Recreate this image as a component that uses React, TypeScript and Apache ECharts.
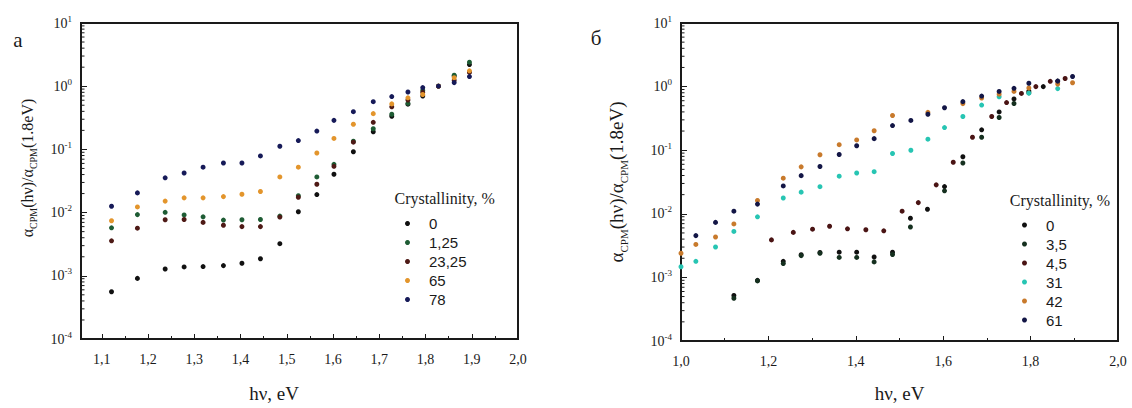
import React, { useEffect, useRef } from "react";
import * as echarts from "echarts";

// ---------- Panel а ----------
const A_X = [1.121, 1.177, 1.237, 1.278, 1.319, 1.363, 1.403, 1.443, 1.485, 1.525, 1.565, 1.602, 1.644, 1.687, 1.727, 1.762, 1.794, 1.828, 1.862, 1.895];
const A_0 = [0.00056, 0.00091, 0.00128, 0.00138, 0.0014, 0.00145, 0.00158, 0.00186, 0.00322, 0.0103, 0.0193, 0.0404, 0.0919, 0.19, 0.335, 0.52, 0.7, 1.0, 1.45, 2.2];
const A_125 = [0.00574, 0.00929, 0.0101, 0.00919, 0.00857, 0.00762, 0.0077, 0.00778, 0.0088, 0.0185, 0.0367, 0.058, 0.135, 0.212, 0.36, 0.536, 0.86, 1.0, 1.49, 2.4];
const A_2325 = [0.00358, 0.00567, 0.0077, 0.00778, 0.007, 0.0063, 0.006, 0.006, 0.0085, 0.0175, 0.0281, 0.054, 0.13, 0.268, 0.472, 0.604, 0.8, 1.0, 1.24, 1.65];
const A_65 = [0.00743, 0.0123, 0.0152, 0.0171, 0.0171, 0.0179, 0.0195, 0.0216, 0.0367, 0.0523, 0.0878, 0.149, 0.25, 0.368, 0.525, 0.655, 0.74, 1.0, 1.36, 1.75];
const A_78 = [0.0126, 0.0205, 0.0355, 0.0423, 0.0523, 0.061, 0.061, 0.0789, 0.112, 0.138, 0.195, 0.288, 0.395, 0.569, 0.686, 0.809, 0.95, 1.0, 1.14, 1.42];
const A_NAMES = ["0", "1,25", "23,25", "65", "78"];
const A_COLORS = ["#111111", "#1e5c34", "#4e1a16", "#e3952c", "#161a58"];
const A_MAJOR_TICKS = [1.1, 1.2, 1.3, 1.4, 1.5, 1.6, 1.7, 1.8, 1.9, 2.0];
const A_MINOR_TICKS = [1.15, 1.25, 1.35, 1.45, 1.55, 1.65, 1.75, 1.85, 1.95];

// ---------- Panel б ----------
const B_X0 = [1.121, 1.175, 1.234, 1.275, 1.318, 1.362, 1.402, 1.442, 1.484, 1.525, 1.564, 1.603, 1.645, 1.688, 1.728, 1.762, 1.796, 1.829, 1.862];
const B_0 = [0.00052, 0.0009, 0.00179, 0.00227, 0.00246, 0.00249, 0.00249, 0.00209, 0.00249, 0.0085, 0.0118, 0.0268, 0.079, 0.209, 0.4, 0.64, 0.85, 1.0, 1.22];
const B_X35 = [1.121, 1.175, 1.234, 1.275, 1.318, 1.362, 1.402, 1.442, 1.484, 1.525, 1.603, 1.645, 1.688, 1.728, 1.762, 1.796];
const B_35 = [0.00047, 0.00088, 0.00165, 0.0022, 0.0024, 0.00206, 0.00206, 0.00175, 0.00229, 0.0062, 0.023, 0.063, 0.16, 0.327, 0.542, 0.8];
const B_X45 = [1.207, 1.257, 1.301, 1.34, 1.381, 1.423, 1.464, 1.506, 1.543, 1.584, 1.623, 1.667, 1.711, 1.745, 1.779, 1.812, 1.845, 1.879];
const B_45 = [0.00389, 0.0051, 0.00573, 0.00637, 0.00581, 0.00561, 0.0054, 0.011, 0.015, 0.0285, 0.0646, 0.16, 0.339, 0.561, 0.781, 1.0, 1.21, 1.34];
const B_X31 = [1.0, 1.034, 1.079, 1.121, 1.175, 1.234, 1.275, 1.318, 1.362, 1.402, 1.442, 1.484, 1.526, 1.565, 1.603, 1.645, 1.688, 1.728, 1.796, 1.862];
const B_31 = [0.00147, 0.00179, 0.00301, 0.00528, 0.00897, 0.0177, 0.0219, 0.0267, 0.039, 0.0438, 0.0459, 0.0887, 0.0997, 0.149, 0.227, 0.339, 0.512, 0.693, 0.789, 0.93];
const B_X42 = [1.0, 1.034, 1.079, 1.121, 1.175, 1.234, 1.275, 1.318, 1.362, 1.402, 1.442, 1.484, 1.565, 1.645, 1.688, 1.728, 1.762, 1.796, 1.862, 1.896];
const B_42 = [0.0024, 0.0033, 0.00432, 0.00693, 0.0162, 0.0363, 0.0547, 0.0847, 0.122, 0.145, 0.202, 0.351, 0.394, 0.54, 0.66, 0.76, 0.84, 0.95, 1.1, 1.15];
const B_X61 = [1.034, 1.079, 1.121, 1.175, 1.234, 1.275, 1.318, 1.362, 1.402, 1.442, 1.484, 1.526, 1.565, 1.603, 1.645, 1.688, 1.728, 1.762, 1.796, 1.862, 1.896];
const B_61 = [0.00454, 0.00733, 0.011, 0.0142, 0.0274, 0.0398, 0.0555, 0.0857, 0.1175, 0.152, 0.244, 0.294, 0.367, 0.465, 0.58, 0.71, 0.84, 0.94, 1.13, 1.22, 1.44];
const B_NAMES = ["0", "3,5", "4,5", "31", "42", "61"];
const B_COLORS = ["#111111", "#15301f", "#4a1414", "#27c5b3", "#c87a2c", "#131646"];

// log-axis minor ticks (2..9 of each decade)
const Y_MINOR = [
  2e-4, 3e-4, 4e-4, 5e-4, 6e-4, 7e-4, 8e-4, 9e-4,
  2e-3, 3e-3, 4e-3, 5e-3, 6e-3, 7e-3, 8e-3, 9e-3,
  2e-2, 3e-2, 4e-2, 5e-2, 6e-2, 7e-2, 8e-2, 9e-2,
  2e-1, 3e-1, 4e-1, 5e-1, 6e-1, 7e-1, 8e-1, 9e-1,
  2, 3, 4, 5, 6, 7, 8, 9,
];

const SERIF = "Liberation Serif";
const SANS = "Liberation Sans";
const INK = "#1a1a1a";

const A_XMIN = 1.055;
const B_XMIN = 1.0;

function pairs(xs: number[], ys: number[]) {
  return xs.map((x, i) => [x, ys[i]]);
}

function yAxis(gridIndex: number, nameSize: number, nameGap: number, namePad: number[]) {
  return {
    type: "log",
    logBase: 10,
    gridIndex,
    min: 1e-4,
    max: 10,
    axisLine: { show: true, lineStyle: { color: INK, width: 2 } },
    axisTick: { show: true, inside: true, length: 6, lineStyle: { color: INK, width: 1 } },
    splitLine: { show: false },
    axisLabel: {
      margin: 9,
      color: INK,
      formatter: (v: number) => `{b|10}{s|${Math.round(Math.log10(v))}}`,
      rich: {
        b: { fontFamily: SERIF, fontSize: 14, color: INK, lineHeight: 18 },
        s: { fontFamily: SERIF, fontSize: 9, color: INK, verticalAlign: "top" },
      },
    },
    name: "{m|α}{u|CPM}{m|(hν)/α}{u|CPM}{m|(1.8eV)}",
    nameLocation: "middle",
    nameGap,
    nameRotate: 90,
    nameTextStyle: {
      padding: namePad,
      rich: {
        m: { fontFamily: SERIF, fontSize: nameSize, color: INK, lineHeight: nameSize + 6 },
        u: { fontFamily: SERIF, fontSize: Math.round(nameSize * 0.6), color: INK, verticalAlign: "bottom" },
      },
    },
  };
}

function minorTickSeries(xIdx: number, yIdx: number, xMin: number) {
  return {
    type: "custom",
    xAxisIndex: xIdx,
    yAxisIndex: yIdx,
    silent: true,
    clip: false,
    data: Y_MINOR.map((v) => [xMin, v]),
    renderItem: (_p: any, api: any) => {
      const pt = api.coord([api.value(0), api.value(1)]);
      return {
        type: "line",
        shape: { x1: pt[0], y1: pt[1], x2: pt[0] + 3.5, y2: pt[1] },
        style: { stroke: INK, lineWidth: 1 },
      };
    },
  };
}

function scatter(name: string, color: string, xIdx: number, yIdx: number, data: number[][]) {
  return {
    type: "scatter",
    name,
    xAxisIndex: xIdx,
    yAxisIndex: yIdx,
    symbol: "circle",
    symbolSize: 5,
    itemStyle: { color, opacity: 1 },
    data,
  };
}

const commaFmt = (v: number) => v.toFixed(1).replace(".", ",");

export default function App() {
  const ref = useRef<HTMLDivElement>(null);

  useEffect(() => {
    document.body.style.margin = "0";
    if (!ref.current) return;
    const chart = echarts.init(ref.current, null, { renderer: "svg" });

    const xLabel = { fontFamily: SERIF, fontSize: 14, color: INK, margin: 13 };
    const xNameStyle = { fontFamily: SERIF, fontSize: 19, color: INK };
    const legendBase = {
      orient: "vertical",
      itemWidth: 33,
      itemHeight: 5,
      itemGap: 0,
      padding: 0,
      selectedMode: false,
      textStyle: { fontFamily: SANS, fontSize: 15, color: INK, lineHeight: 19 },
    };

    const option: any = {
      animation: false,
      backgroundColor: "#ffffff",
      grid: [
        { left: 81, top: 23, width: 437, height: 326.5, show: true, borderColor: INK, borderWidth: 2, containLabel: false },
        { left: 681, top: 23, width: 437, height: 326.5, show: true, borderColor: INK, borderWidth: 2, containLabel: false },
      ],
      xAxis: [
        {
          type: "value",
          gridIndex: 0,
          min: A_XMIN,
          max: 2.0,
          axisLine: { show: true, onZero: false, lineStyle: { color: INK, width: 2 } },
          axisTick: { show: true, inside: true, length: 5, customValues: A_MAJOR_TICKS, lineStyle: { color: INK } },
          axisLabel: { ...xLabel, customValues: A_MAJOR_TICKS, formatter: commaFmt },
          splitLine: { show: false },
          name: "hν, eV",
          nameLocation: "middle",
          nameGap: 45,
          nameTextStyle: { ...xNameStyle, padding: [0, 51, 0, 0] },
        },
        {
          type: "value",
          gridIndex: 0,
          position: "bottom",
          min: A_XMIN,
          max: 2.0,
          axisLine: { show: false, onZero: false },
          axisTick: { show: true, inside: true, length: 3, customValues: A_MINOR_TICKS, lineStyle: { color: INK } },
          axisLabel: { show: false },
          splitLine: { show: false },
        },
        {
          type: "value",
          gridIndex: 1,
          min: B_XMIN,
          max: 2.0,
          interval: 0.2,
          axisLine: { show: true, onZero: false, lineStyle: { color: INK, width: 2 } },
          axisTick: { show: true, inside: true, length: 5, lineStyle: { color: INK } },
          minorTick: { show: true, splitNumber: 2, length: 3, lineStyle: { color: INK } },
          axisLabel: { ...xLabel, formatter: commaFmt },
          splitLine: { show: false },
          minorSplitLine: { show: false },
          name: "hν, eV",
          nameLocation: "middle",
          nameGap: 43,
          nameTextStyle: xNameStyle,
        },
      ],
      yAxis: [yAxis(0, 16, 43, [0, 0, 0, 26]), yAxis(1, 19, 52, [0, 0, 0, 0])],
      legend: [
        {
          ...legendBase,
          data: A_NAMES.map((n) => ({ name: n, icon: "circle" })),
          left: 405,
          top: 214,
        },
        {
          ...legendBase,
          data: B_NAMES.map((n) => ({ name: n, icon: "circle" })),
          left: 1022,
          top: 215.5,
        },
      ],
      graphic: [
        { type: "text", x: 18, y: 40, style: { text: "а", font: `21px '${SERIF}'`, fill: INK, align: "center", verticalAlign: "middle" } },
        { type: "text", x: 596, y: 38, style: { text: "б", font: `21px '${SERIF}'`, fill: INK, align: "center", verticalAlign: "middle" } },
        { type: "text", x: 444.7, y: 198.5, style: { text: "Crystallinity, %", font: `16px '${SERIF}'`, fill: INK, align: "center", verticalAlign: "middle" } },
        { type: "text", x: 1060, y: 200, style: { text: "Crystallinity, %", font: `16px '${SERIF}'`, fill: INK, align: "center", verticalAlign: "middle" } },
      ],
      series: [
        minorTickSeries(0, 0, A_XMIN),
        minorTickSeries(2, 1, B_XMIN),
        scatter(A_NAMES[0], A_COLORS[0], 0, 0, pairs(A_X, A_0)),
        scatter(A_NAMES[1], A_COLORS[1], 0, 0, pairs(A_X, A_125)),
        scatter(A_NAMES[2], A_COLORS[2], 0, 0, pairs(A_X, A_2325)),
        scatter(A_NAMES[3], A_COLORS[3], 0, 0, pairs(A_X, A_65)),
        scatter(A_NAMES[4], A_COLORS[4], 0, 0, pairs(A_X, A_78)),
        scatter(B_NAMES[0], B_COLORS[0], 2, 1, pairs(B_X0, B_0)),
        scatter(B_NAMES[1], B_COLORS[1], 2, 1, pairs(B_X35, B_35)),
        scatter(B_NAMES[2], B_COLORS[2], 2, 1, pairs(B_X45, B_45)),
        scatter(B_NAMES[3], B_COLORS[3], 2, 1, pairs(B_X31, B_31)),
        scatter(B_NAMES[4], B_COLORS[4], 2, 1, pairs(B_X42, B_42)),
        scatter(B_NAMES[5], B_COLORS[5], 2, 1, pairs(B_X61, B_61)),
      ],
    };

    chart.setOption(option);
    return () => chart.dispose();
  }, []);

  return <div ref={ref} style={{ width: 1132, height: 408 }} />;
}
